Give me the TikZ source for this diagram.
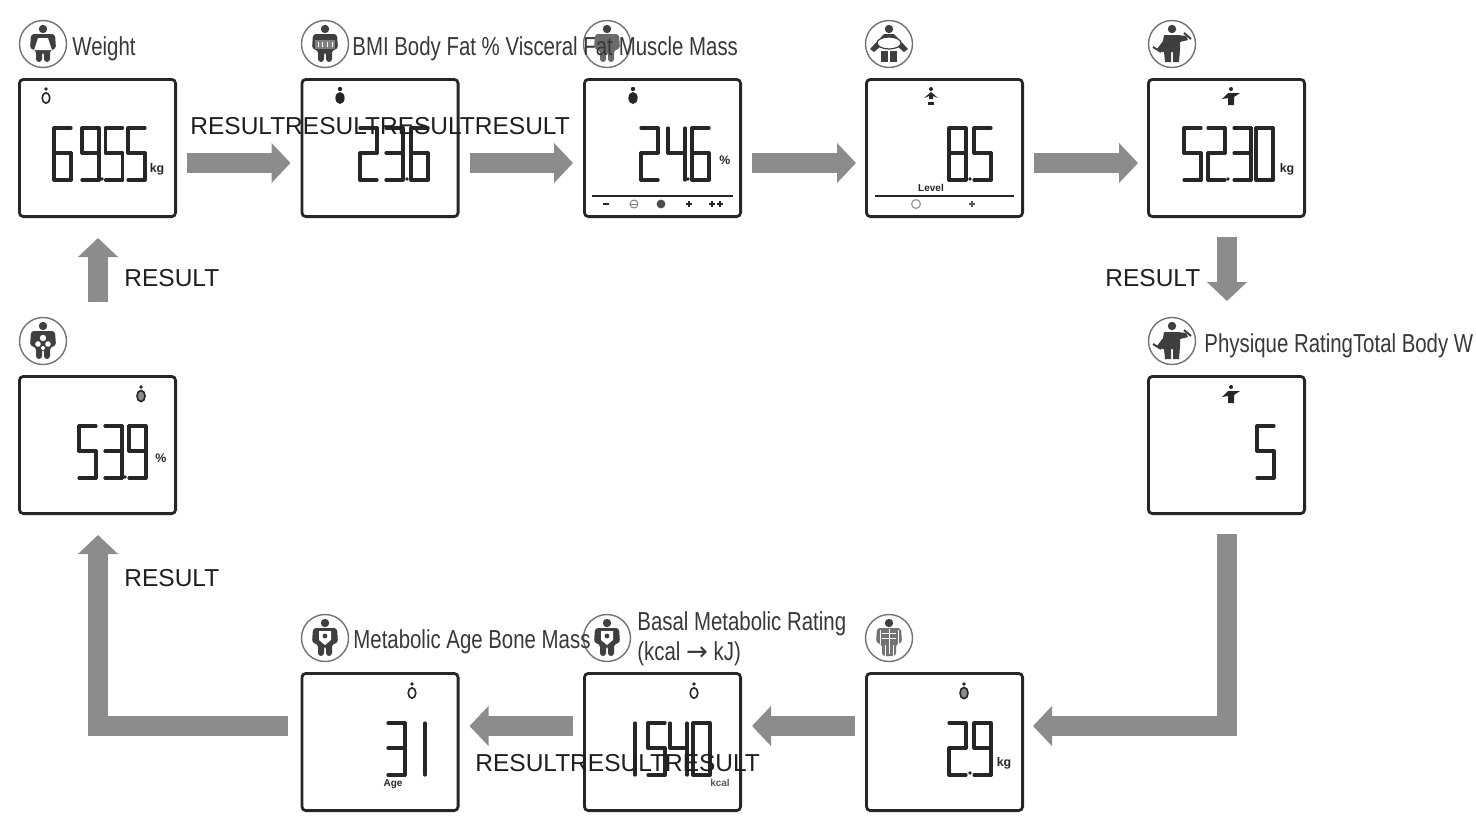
\documentclass[tikz,border=0pt]{standalone}
\usepackage{fontspec}
\setmainfont{Liberation Sans}
\newfontfamily\narrowf[FakeStretch=0.785]{Liberation Sans}
\newfontfamily\arrowf{DejaVu Sans}
\usetikzlibrary{arrows.meta}
\definecolor{arrowgrey}{HTML}{8C8C8C}
\definecolor{inkdark}{HTML}{262626}
\definecolor{icondark}{HTML}{3F3F3F}
\tikzset{
  screen/.style={draw=inkdark,fill=white,line width=1.4pt,rounded corners=2pt,inner sep=0pt,outer sep=0.7pt,minimum width=78.1pt,minimum height=68.6pt},
  ringmark/.style={circle,draw=black!55,fill=white,line width=0.7pt,inner sep=0pt,outer sep=0pt,minimum size=23.5pt},
  lcdseg/.style={draw=inkdark,line width=1.6pt,line cap=round},
  blockarrow/.style={draw=arrowgrey,line width=10.4pt,line join=miter,-{Triangle[length=9.5pt,width=19.5pt,fill=arrowgrey]}},
  resulttext/.style={anchor=west,inner sep=0pt,text=black!88,font=\fontsize{12.25}{14}\selectfont},
  labeltext/.style={anchor=west,inner sep=0pt,text=black!78,font=\narrowf\fontsize{13}{15}\selectfont},
  unittext/.style={inner sep=0pt,text=inkdark,font=\bfseries\fontsize{5}{6}\selectfont},
  unitbig/.style={inner sep=0pt,text=inkdark,font=\bfseries\fontsize{6.2}{7}\selectfont},
  ic/.style={fill=icondark,draw=none},
}
% seven-segment parts
\def\W{17}\def\H{52}\def\M{25}
\def\sega{\draw[lcdseg] (0,0)--(\W,0);}
\def\segb{\draw[lcdseg] (\W,0)--(\W,\M);}
\def\segc{\draw[lcdseg] (\W,\M)--(\W,\H);}
\def\segd{\draw[lcdseg] (0,\H)--(\W,\H);}
\def\sege{\draw[lcdseg] (0,\M)--(0,\H);}
\def\segf{\draw[lcdseg] (0,0)--(0,\M);}
\def\segg{\draw[lcdseg] (0,\M)--(\W,\M);}
\expandafter\def\csname dg0\endcsname{\sega\segb\segc\segd\sege\segf}
\expandafter\def\csname dg1\endcsname{\segb\segc}
\expandafter\def\csname dg2\endcsname{\sega\segb\segg\sege\segd}
\expandafter\def\csname dg3\endcsname{\sega\segb\segc\segd\segg}
\expandafter\def\csname dg4\endcsname{\segf\segg\segb\segc}
\expandafter\def\csname dg5\endcsname{\sega\segf\segg\segc\segd}
\expandafter\def\csname dg6\endcsname{\sega\segf\segg\segc\segd\sege}
\expandafter\def\csname dg8\endcsname{\sega\segb\segc\segd\sege\segf\segg}
\expandafter\def\csname dg9\endcsname{\sega\segb\segc\segd\segf\segg}
\newcommand\lcd[3]{\begin{scope}[shift={(#1,#2)}]\csname dg#3\endcsname\end{scope}}
\newcommand\lcddot[2]{\fill[inkdark] (#1,#2) circle (0.9pt);}
% small LCD marks
\newcommand\tinyfull[2]{\begin{scope}[shift={(#1,#2)}]\fill[inkdark] (0,-8) circle (1.1pt);\fill[inkdark] (0,1) ellipse (2.3pt and 3pt);\end{scope}}
\newcommand\tinyhollow[2]{\begin{scope}[shift={(#1,#2)}]\fill[inkdark] (0,-8) circle (0.9pt);\draw[inkdark,line width=0.8pt,fill=white] (0,1) ellipse (1.9pt and 2.6pt);\end{scope}}
\newcommand\tinymix[2]{\begin{scope}[shift={(#1,#2)}]\fill[inkdark] (0,-8) circle (0.9pt);\draw[inkdark,line width=0.8pt,fill=black!45] (0,1) ellipse (2pt and 2.8pt);\end{scope}}
\newcommand\tinyarms[2]{\begin{scope}[shift={(#1,#2)}]\fill[inkdark] (0,-8) circle (1pt);\fill[inkdark] (-7,1)--(0,-5)--(7,1)--(2,-1)--(2,2)--(-2,2)--(-2,-1)--cycle;\fill[inkdark] (-3,5) rectangle (3,8);\end{scope}}
\newcommand\tinymuscle[2]{\begin{scope}[shift={(#1,#2)}]\fill[inkdark] (0,-8) circle (1pt);\fill[inkdark] (-9,2)--(-3,-4)--(3,-4)--(9,-4)--(3,0)--(3,8)--(-3,8)--(-3,1)--cycle;\end{scope}}
% large icon parts
\def\iconhead{\fill[ic] (0,-15) circle (2.1pt);}
\def\iconbody{\fill[ic,rounded corners=1.5pt] (-12,-10)--(12,-10)--(13,5)--(7,6)--(7,18)--(1,18)--(1,8)--(-1,8)--(-1,18)--(-7,18)--(-7,6)--(-13,5)--cycle;}
\def\iconmuscle{\fill[ic] (-8,-9)--(6,-9)--(14,-8)--(16,-4)--(8,-2)--(8,5)--(7,18)--(1,18)--(1,8)--(-1,8)--(-1,18)--(-7,18)--(-8,8)--(-10,8)--(-15,5)--(-9,-3)--cycle;\draw[icondark,line width=1pt] (12,-11)--(19,-5) (-19,3)--(-11,8);}
\newcommand\ringicon[3]{\node[ringmark] (#1) at (#2) {};\begin{scope}[shift={(#2)}]\iconhead #3\end{scope}}
\begin{document}
\begin{tikzpicture}[x=0.5pt,y=-0.5pt]
\useasboundingbox (0,0) rectangle (1476,820);
\fill[white] (0,0) rectangle (1476,820);
% screens
\node[screen] (s1) at (97.5,148) {};
\node[screen] (s2) at (380,148) {};
\node[screen] (s3) at (662.5,148) {};
\node[screen] (s4) at (944.5,148) {};
\node[screen] (s5) at (1226.5,148) {};
\node[screen] (s6) at (1226.5,445) {};
\node[screen] (s7) at (97.5,445) {};
\node[screen] (s8) at (380,742) {};
\node[screen] (s9) at (662.5,742) {};
\node[screen] (s10) at (944.5,742) {};
% arrows
\draw[blockarrow] ([shift={(10,15)}]s1.east) -- ([shift={(-10,15)}]s2.west);
\draw[blockarrow] ([shift={(10,15)}]s2.east) -- ([shift={(-10,15)}]s3.west);
\draw[blockarrow] ([shift={(10,15)}]s3.east) -- ([shift={(-9,15)}]s4.west);
\draw[blockarrow] ([shift={(10,15)}]s4.east) -- ([shift={(-9,15)}]s5.west);
\draw[blockarrow] ([shift={(0.5,19)}]s5.south) -- ([shift={(0.5,-74)}]s6.north);
\draw[blockarrow] ([shift={(0.5,19)}]s6.south) |- ([shift={(9,-16)}]s10.east);
\draw[blockarrow] ([shift={(-10,-16)}]s10.west) -- ([shift={(10,-16)}]s9.east);
\draw[blockarrow] ([shift={(-10,-16)}]s9.west) -- ([shift={(10,-16)}]s8.east);
\draw[blockarrow] ([shift={(-13,-16)}]s8.west) -| ([shift={(0.5,20)}]s7.south);
\draw[blockarrow] ([shift={(0.5,-73)}]s7.north) -- ([shift={(0.5,20)}]s1.south);
% digits: 69.55
\lcd{54}{128}{6}\lcd{82}{128}{9}\lcd{105.5}{128}{5}\lcd{128}{128}{5}\lcddot{102}{179}
\node[unitbig] (u1) at (157,169) {kg};
% 23.6
\lcd{360}{128}{2}\lcd{386}{128}{3}\lcd{411}{128}{6}\lcddot{407}{179}
% 24.6
\lcd{641}{128}{2}\lcd{668}{128}{4}\lcd{692}{128}{6}\lcddot{688}{179}
\node[unitbig] (u3) at (725,160) {\%};
\draw[inkdark,line width=0.6pt] (592,196)--(733,196);
\draw[inkdark,line width=0.8pt] (603,204)--(609,204);
\draw[black!50,line width=0.5pt] (634,204) circle (2pt);
\draw[black!50,line width=0.5pt] (631,204)--(637,204);
\fill[black!70] (661,204) circle (2.2pt);
\draw[inkdark,line width=0.6pt] (686,204)--(692,204) (689,201)--(689,207);
\draw[inkdark,line width=0.6pt] (709,204)--(715,204) (712,201)--(712,207) (717,204)--(723,204) (720,201)--(720,207);
% 8.5
\lcd{949}{128}{8}\lcd{974}{128}{5}\lcddot{970}{179}
\node[unittext] (u4) at (931,188) {Level};
\draw[inkdark,line width=0.6pt] (875,196)--(1014,196);
\draw[black!40,line width=0.6pt] (916,204) circle (2.2pt);
\draw[black!65,line width=0.6pt] (969,204)--(975,204) (972,201)--(972,207);
% 52.30
\lcd{1184}{128}{5}\lcd{1208}{128}{2}\lcd{1234}{128}{3}\lcd{1256}{128}{0}\lcddot{1228}{179}
\node[unitbig] (u5) at (1287,169) {kg};
% 5
\lcd{1257}{426}{5}
% 53.9
\lcd{79}{426}{5}\lcd{105}{426}{3}\lcd{129}{426}{9}\lcddot{125}{477}
\node[unitbig] (u7) at (161,458) {\%};
% 31
\lcd{388}{723}{3}\lcd{408}{723}{1}
\node[unittext] (u8) at (393,784) {Age};
% 1540
\lcd{618}{723}{1}\lcd{648}{723}{5}\lcd{670}{723}{4}\lcd{693}{723}{0}
\node[unittext,text=black!65] (u9) at (720,783) {kcal};
% 2.9
\lcd{949}{723}{2}\lcd{974}{723}{9}\lcddot{970}{773}
\node[unitbig] (u10) at (1004,763) {kg};
% small marks
\tinyhollow{46}{97}
\tinyfull{340}{97}
\tinyfull{633}{97}
\tinyarms{931}{97}
\tinymuscle{1231}{97}
\tinymuscle{1231}{395}
\tinymix{141}{395}
\tinyhollow{412}{692}
\tinyhollow{694}{692}
\tinymix{964}{692}
% ring icons
\ringicon{i1}{43,44}{\iconbody\fill[white] (-5,-6)--(5,-6)--(9,6)--(-9,6)--cycle;}
\ringicon{i2}{325,44}{\iconbody\fill[black!50] (-10,-4) rectangle (10,5);\draw[white,line width=0.4pt] (-7,-2)--(-7,3) (-3,-2)--(-3,3) (2,-2)--(2,3) (7,-2)--(7,3);}
\ringicon{i3}{607,44}{\fill[black!58,rounded corners=1.5pt] (-12,-10)--(12,-10)--(13,5)--(7,6)--(7,18)--(1,18)--(1,8)--(-1,8)--(-1,18)--(-7,18)--(-7,6)--(-13,5)--cycle;}
\ringicon{i4}{889,44}{\fill[ic] (-19,5)--(-5,-10)--(5,-10)--(19,5)--(15,8)--(8,2)--(-8,2)--(-15,8)--cycle;\draw[icondark,line width=0.6pt,fill=white] (0,-1) ellipse (6pt and 3pt);\fill[ic] (-8,7) rectangle (-1,18);\fill[ic] (1,7) rectangle (8,18);}
\ringicon{i5}{1172,44}{\iconmuscle}
\ringicon{i6}{1172,341}{\iconmuscle}
\ringicon{i7}{43,341}{\iconbody\fill[white] (0,-3) circle (1.6pt);\fill[white] (-5,3) circle (1.4pt);\fill[white] (5,3) circle (1.4pt);\fill[white] (0,7) circle (1pt);}
\ringicon{i8}{325,638}{\iconbody\fill[white] (-6,-7)--(6,-7)--(6,2)--(0,7)--(-6,2)--cycle;\fill[ic] (0,-2) circle (1.2pt);}
\ringicon{i9}{607,638}{\iconbody\fill[white] (-6,-7)--(6,-7)--(6,2)--(0,7)--(-6,2)--cycle;\fill[ic] (0,-2) circle (1.2pt);}
\ringicon{i10}{889,638}{\fill[black!55,rounded corners=1.5pt] (-12,-10)--(12,-10)--(13,5)--(7,6)--(7,18)--(-7,18)--(-7,6)--(-13,5)--cycle;\draw[white,line width=0.5pt] (0,-9)--(0,16) (-7,-5)--(7,-5) (-7,0)--(7,0) (-4,7)--(-4,18) (4,7)--(4,18) (-9,-8)--(-9,6) (9,-8)--(9,6);}
% labels
\node[labeltext] (t1) at (72,49) {Weight};
\node[labeltext] (t2) at (352,49) {BMI Body Fat \% Visceral Fat\hspace{3pt}Muscle Mass};
\node[labeltext] (t3) at (1204,346) {Physique RatingTotal Body W};
\node[labeltext] (t4) at (353,642) {Metabolic Age Bone Mass};
\node[labeltext] (t5) at (637,624) {Basal Metabolic Rating};
\node[labeltext] (t6) at (637,654) {(kcal {\arrowf→} kJ)};
\node[resulttext] (r1) at (190,126) {RESULTRESULTRESULTRESULT};
\node[resulttext] (r2) at (124,278) {RESULT};
\node[resulttext] (r3) at (1105,278) {RESULT};
\node[resulttext] (r4) at (124,578) {RESULT};
\node[resulttext] (r5) at (475,763) {RESULTRESULTRESULT};
\end{tikzpicture}
\end{document}
